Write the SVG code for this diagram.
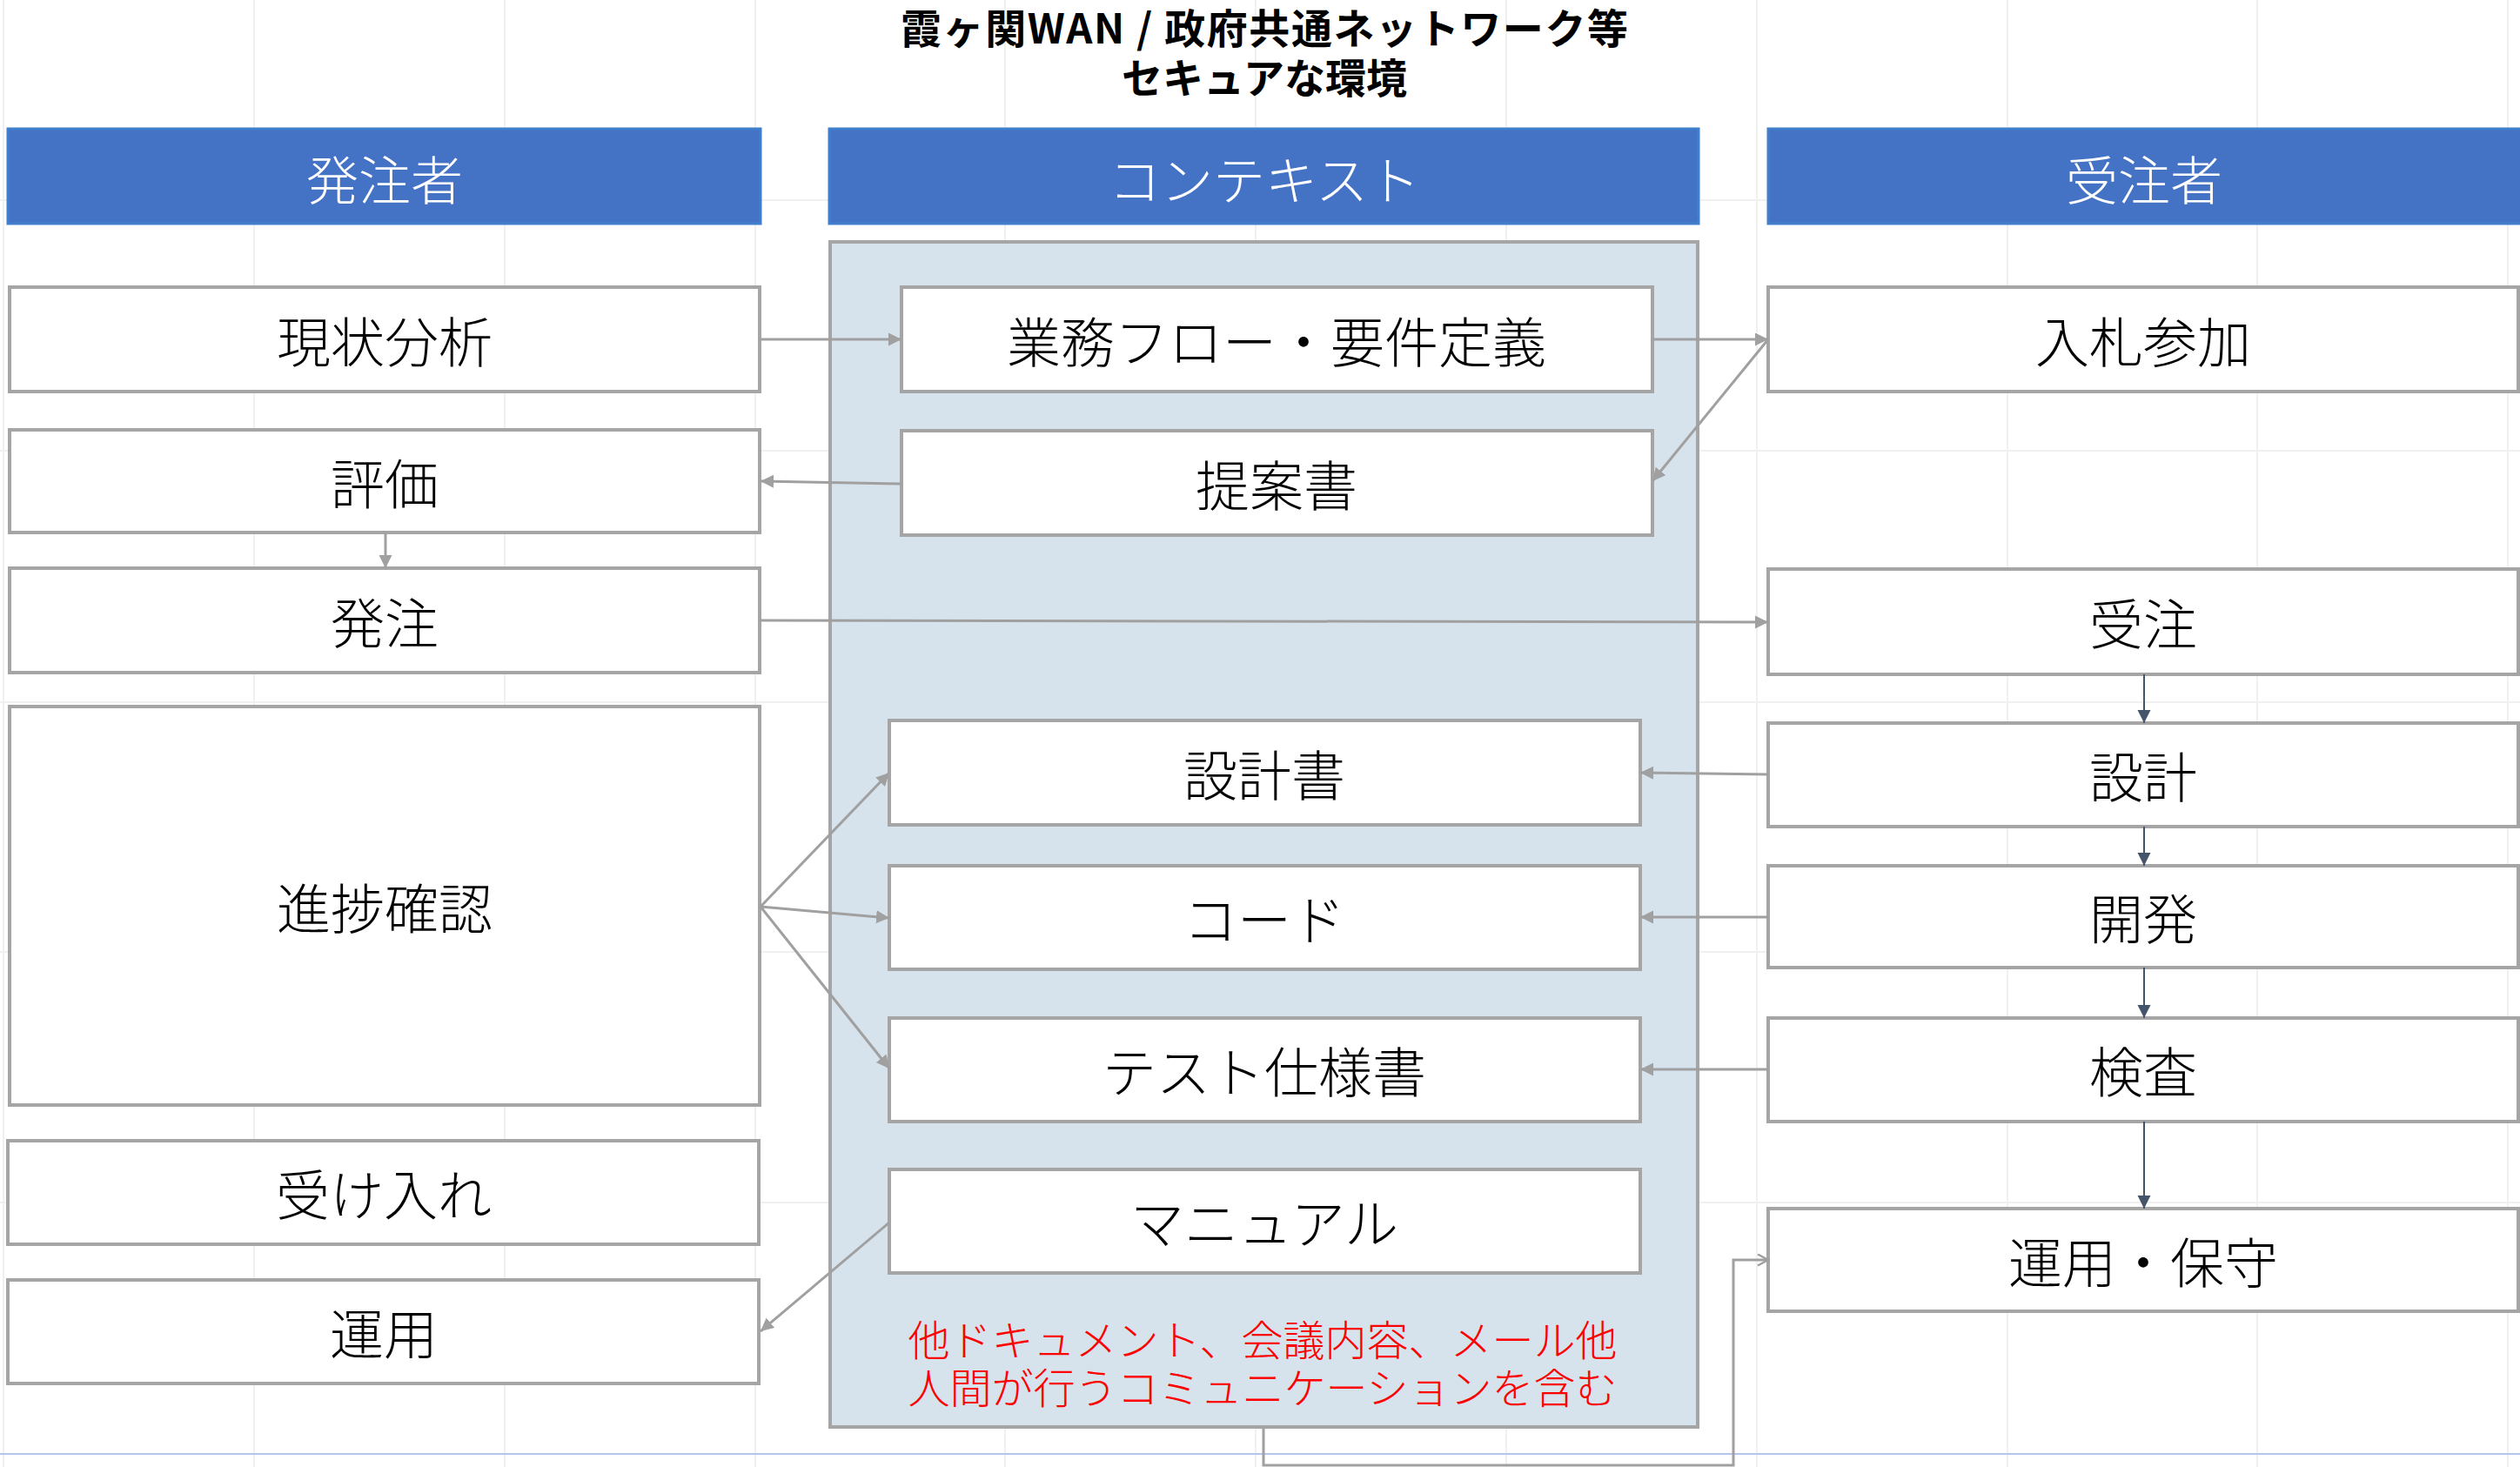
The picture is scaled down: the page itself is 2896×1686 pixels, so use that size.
<svg xmlns="http://www.w3.org/2000/svg" width="2896" height="1686" viewBox="0 0 2896 1686">
<style>
.grid{stroke:#F0F0F0;stroke-width:2}
.box{fill:#FFFFFF;stroke:#A5A5A5;stroke-width:4}
.hdr{fill:#4472C4;stroke:#3F7FCB;stroke-width:3}
.ctx{fill:#D6E3EC;stroke:#A5A5A5;stroke-width:4}
text{font-family:"Noto Sans CJK JP","Noto Sans CJK SC",sans-serif;text-anchor:middle;dominant-baseline:central}
.lbl{font-size:62px;fill:#000000;font-weight:300}
.hl{font-size:60px;fill:#FFFFFF;font-weight:300}
.ttl{font-size:47px;font-weight:700;fill:#000000}
.red{font-size:48px;fill:#FF0000;font-weight:300}
.c{stroke:#A0A0A0;stroke-width:3;fill:none;marker-end:url(#ag)}
.c2{stroke:#A0A0A0;stroke-width:3;fill:none;marker-end:url(#ao)}
.d{stroke:#44546A;stroke-width:2;fill:none;marker-end:url(#ad)}
</style>
<defs>
<marker id="ag" markerUnits="userSpaceOnUse" markerWidth="16" markerHeight="16" refX="15" refY="7.5" orient="auto"><path d="M0,0 L15,7.5 L0,15 z" fill="#A0A0A0"/></marker>
<marker id="ad" markerUnits="userSpaceOnUse" markerWidth="16" markerHeight="16" refX="15" refY="7.5" orient="auto"><path d="M0,0 L15,7.5 L0,15 z" fill="#44546A"/></marker>
<marker id="ao" markerUnits="userSpaceOnUse" markerWidth="16" markerHeight="16" refX="13" refY="7.5" orient="auto"><path d="M1,1 L13,7.5 L1,14" fill="none" stroke="#A0A0A0" stroke-width="2.5"/></marker>
</defs>
<rect width="2896" height="1686" fill="#FFFFFF"/>
<g id="grid">
<line class="grid" x1="4" y1="0" x2="4" y2="1686"/>
<line class="grid" x1="292" y1="0" x2="292" y2="1686"/>
<line class="grid" x1="580" y1="0" x2="580" y2="1686"/>
<line class="grid" x1="868" y1="0" x2="868" y2="1686"/>
<line class="grid" x1="1155" y1="0" x2="1155" y2="1686"/>
<line class="grid" x1="1443" y1="0" x2="1443" y2="1686"/>
<line class="grid" x1="1731" y1="0" x2="1731" y2="1686"/>
<line class="grid" x1="2019" y1="0" x2="2019" y2="1686"/>
<line class="grid" x1="2307" y1="0" x2="2307" y2="1686"/>
<line class="grid" x1="2594" y1="0" x2="2594" y2="1686"/>
<line class="grid" x1="2882" y1="0" x2="2882" y2="1686"/>
<line class="grid" x1="0" y1="230" x2="2896" y2="230"/>
<line class="grid" x1="0" y1="518" x2="2896" y2="518"/>
<line class="grid" x1="0" y1="807" x2="2896" y2="807"/>
<line class="grid" x1="0" y1="1094" x2="2896" y2="1094"/>
<line class="grid" x1="0" y1="1382" x2="2896" y2="1382"/>
<line x1="0" y1="1671" x2="2896" y2="1671" stroke="#B4C6EE" stroke-width="2"/>
</g>
<g id="title">
<text class="ttl" x="1453" y="29" textLength="836" lengthAdjust="spacing">霞ヶ関WAN / 政府共通ネットワーク等</text>
<text class="ttl" x="1453" y="86">セキュアな環境</text>
</g>
<g id="hdr-orderer"><rect class="hdr" x="9" y="148" width="865" height="109"/><text class="hl" x="442" y="203">発注者</text></g>
<g id="hdr-context"><rect class="hdr" x="953" y="148" width="999" height="109"/><text class="hl" x="1453" y="203">コンテキスト</text></g>
<g id="hdr-contractor"><rect class="hdr" x="2032" y="148" width="870" height="109"/><text class="hl" x="2464" y="203">受注者</text></g>
<g id="context"><rect class="ctx" x="954" y="278" width="997" height="1362"/>
<text class="red" x="1451" y="1537">他ドキュメント、会議内容、メール他</text>
<text class="red" x="1451" y="1592">人間が行うコミュニケーションを含む</text>
</g>
<g id="n-genjo"><rect class="box" x="11" y="330" width="862" height="120"/><text class="lbl" x="442" y="390">現状分析</text></g>
<g id="n-hyoka"><rect class="box" x="11" y="494" width="862" height="118"/><text class="lbl" x="442" y="553">評価</text></g>
<g id="n-hatchu"><rect class="box" x="11" y="653" width="862" height="120"/><text class="lbl" x="442" y="713">発注</text></g>
<g id="n-shinchoku"><rect class="box" x="11" y="812" width="862" height="458"/><text class="lbl" x="442" y="1041">進捗確認</text></g>
<g id="n-ukeire"><rect class="box" x="9" y="1311" width="863" height="119"/><text class="lbl" x="441" y="1370">受け入れ</text></g>
<g id="n-unyo"><rect class="box" x="9" y="1471" width="863" height="119"/><text class="lbl" x="441" y="1530">運用</text></g>
<g id="n-gyomu"><rect class="box" x="1036" y="330" width="863" height="120"/><text class="lbl" x="1467" y="390">業務フロー・要件定義</text></g>
<g id="n-teian"><rect class="box" x="1036" y="495" width="863" height="120"/><text class="lbl" x="1467" y="555">提案書</text></g>
<g id="n-sekkeisho"><rect class="box" x="1022" y="828" width="863" height="120"/><text class="lbl" x="1453" y="888">設計書</text></g>
<g id="n-code"><rect class="box" x="1022" y="995" width="863" height="119"/><text class="lbl" x="1453" y="1054">コード</text></g>
<g id="n-test"><rect class="box" x="1022" y="1170" width="863" height="119"/><text class="lbl" x="1453" y="1229">テスト仕様書</text></g>
<g id="n-manual"><rect class="box" x="1022" y="1344" width="863" height="119"/><text class="lbl" x="1453" y="1403">マニュアル</text></g>
<g id="n-nyusatsu"><rect class="box" x="2032" y="330" width="862" height="120"/><text class="lbl" x="2463" y="390">入札参加</text></g>
<g id="n-juchu"><rect class="box" x="2032" y="654" width="862" height="121"/><text class="lbl" x="2463" y="714">受注</text></g>
<g id="n-sekkei"><rect class="box" x="2032" y="831" width="862" height="119"/><text class="lbl" x="2463" y="890">設計</text></g>
<g id="n-kaihatsu"><rect class="box" x="2032" y="995" width="862" height="117"/><text class="lbl" x="2463" y="1053">開発</text></g>
<g id="n-kensa"><rect class="box" x="2032" y="1170" width="862" height="119"/><text class="lbl" x="2463" y="1229">検査</text></g>
<g id="n-hoshu"><rect class="box" x="2032" y="1389" width="862" height="118"/><text class="lbl" x="2463" y="1448">運用・保守</text></g>
<g id="connectors">
<path class="c" d="M874,390 L1036,390"/>
<path class="c" d="M1899,390 L2032,390"/>
<path class="c" d="M2032,390 L1899,553"/>
<path class="c" d="M1036,556 L874,553"/>
<path class="c" d="M443,612 L443,653"/>
<path class="c" d="M874,713 L2032,715"/>
<path class="c" d="M874,1042 L1022,888"/>
<path class="c" d="M874,1042 L1022,1055"/>
<path class="c" d="M874,1042 L1022,1228"/>
<path class="c" d="M1022,1405 L874,1530"/>
<path class="c" d="M2032,890 L1885,888"/>
<path class="c" d="M2032,1054 L1885,1054"/>
<path class="c" d="M2032,1229 L1885,1229"/>
<path class="c2" d="M1452,1641 L1452,1684 L1992,1684 L1992,1448 L2032,1448"/>
<path class="d" d="M2464,775 L2464,831"/>
<path class="d" d="M2464,950 L2464,995"/>
<path class="d" d="M2464,1112 L2464,1170"/>
<path class="d" d="M2464,1289 L2464,1389"/>
</g>
</svg>
